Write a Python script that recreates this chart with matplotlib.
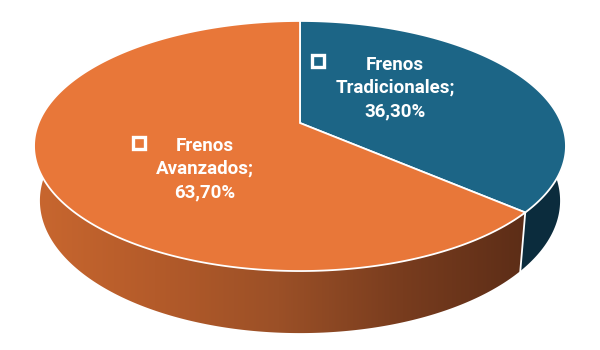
import numpy as np
import matplotlib
matplotlib.use("Agg")
import matplotlib.pyplot as plt
from matplotlib.patches import Polygon
from matplotlib.colors import LinearSegmentedColormap

# datos
categorias = ["Frenos\nTradicionales", "Frenos\nAvanzados"]
porcentajes = [36.30, 63.70]
colores_top = ["#1C6586", "#E87739"]
colores_lado = ["#0B2C3D", None]  # el naranja lleva degradado

# geometria del pastel 3D (pixeles)
CX, CY = 300, 123      # vertice del pastel
S, T = 261.4, 120.8    # radios
P = 0.184              # perspectiva
SB, H = 0.978, 53.3    # cara inferior


def proj(th, bottom=False):
    u = np.sin(th)
    v = -np.cos(th)
    den = 1 - P * v
    X = CX + S * u / den
    Y = CY + T * v / den
    if bottom:
        X = CX + SB * (X - CX)
        Y = CY + SB * (Y - CY) + H / den
    return X, Y


fig = plt.figure(figsize=(6, 3.5), dpi=100)
ax = fig.add_axes([0, 0, 1, 1])
ax.set_xlim(0, 600)
ax.set_ylim(350, 0)
ax.axis("off")

fr = np.cumsum([0] + porcentajes) / 100.0
bordes = 2 * np.pi * fr

# lados
lim_a, lim_b = np.radians(80), np.radians(280)
for i in range(len(porcentajes)):
    a0 = max(bordes[i], lim_a)
    a1 = min(bordes[i + 1], lim_b)
    if a1 <= a0:
        continue
    th = np.linspace(a0, a1, 200)
    xt, yt = proj(th)
    xb, yb = proj(th, bottom=True)
    pts = np.column_stack([np.r_[xt, xb[::-1]], np.r_[yt, yb[::-1]]])
    if colores_lado[i] is not None:
        ax.add_patch(Polygon(pts, closed=True, fc=colores_lado[i], ec="none"))
    else:
        poly = Polygon(pts, closed=True, fc="none", ec="none")
        ax.add_patch(poly)
        cmap = LinearSegmentedColormap.from_list(
            "lado", ["#C9672F", "#B45B2A", "#9B5027", "#783C1E", "#5C2D17"])
        grad = np.linspace(0, 1, 256).reshape(1, -1)
        im = ax.imshow(grad, cmap=cmap, aspect="auto",
                       extent=(30, 528, 350, 100), zorder=1)
        im.set_clip_path(poly)

# lineas blancas del lado
for b in bordes:
    if lim_a < b < lim_b:
        x0, y0 = proj(b)
        x1, y1 = proj(b, bottom=True)
        ax.plot([x0, x1], [y0, y1], color="white", lw=1.3, zorder=2)

# caras superiores
for i in range(len(porcentajes)):
    th = np.linspace(bordes[i], bordes[i + 1], 300)
    xt, yt = proj(th)
    pts = np.column_stack([np.r_[CX, xt], np.r_[CY, yt]])
    ax.add_patch(Polygon(pts, closed=True, fc=colores_top[i], ec="white",
                         lw=1.3, zorder=3, joinstyle="miter"))

# etiquetas
pos_txt = [(395, 88), (205, 169)]
pos_mark = [(318, 61), (139, 143)]
for i in range(len(porcentajes)):
    txt = categorias[i] + ";\n" + ("%.2f%%" % porcentajes[i]).replace(".", ",")
    ax.text(pos_txt[i][0], pos_txt[i][1], txt, color="white", fontsize=13.5,
            fontweight="bold", family="Roboto", ha="center", va="center",
            linespacing=1.36, zorder=5)
    ax.plot(*pos_mark[i], marker="s", ms=8.5, mfc=colores_top[i], mec="white",
            mew=2.4, zorder=5)

fig.savefig("out.png", dpi=100, facecolor="white")
